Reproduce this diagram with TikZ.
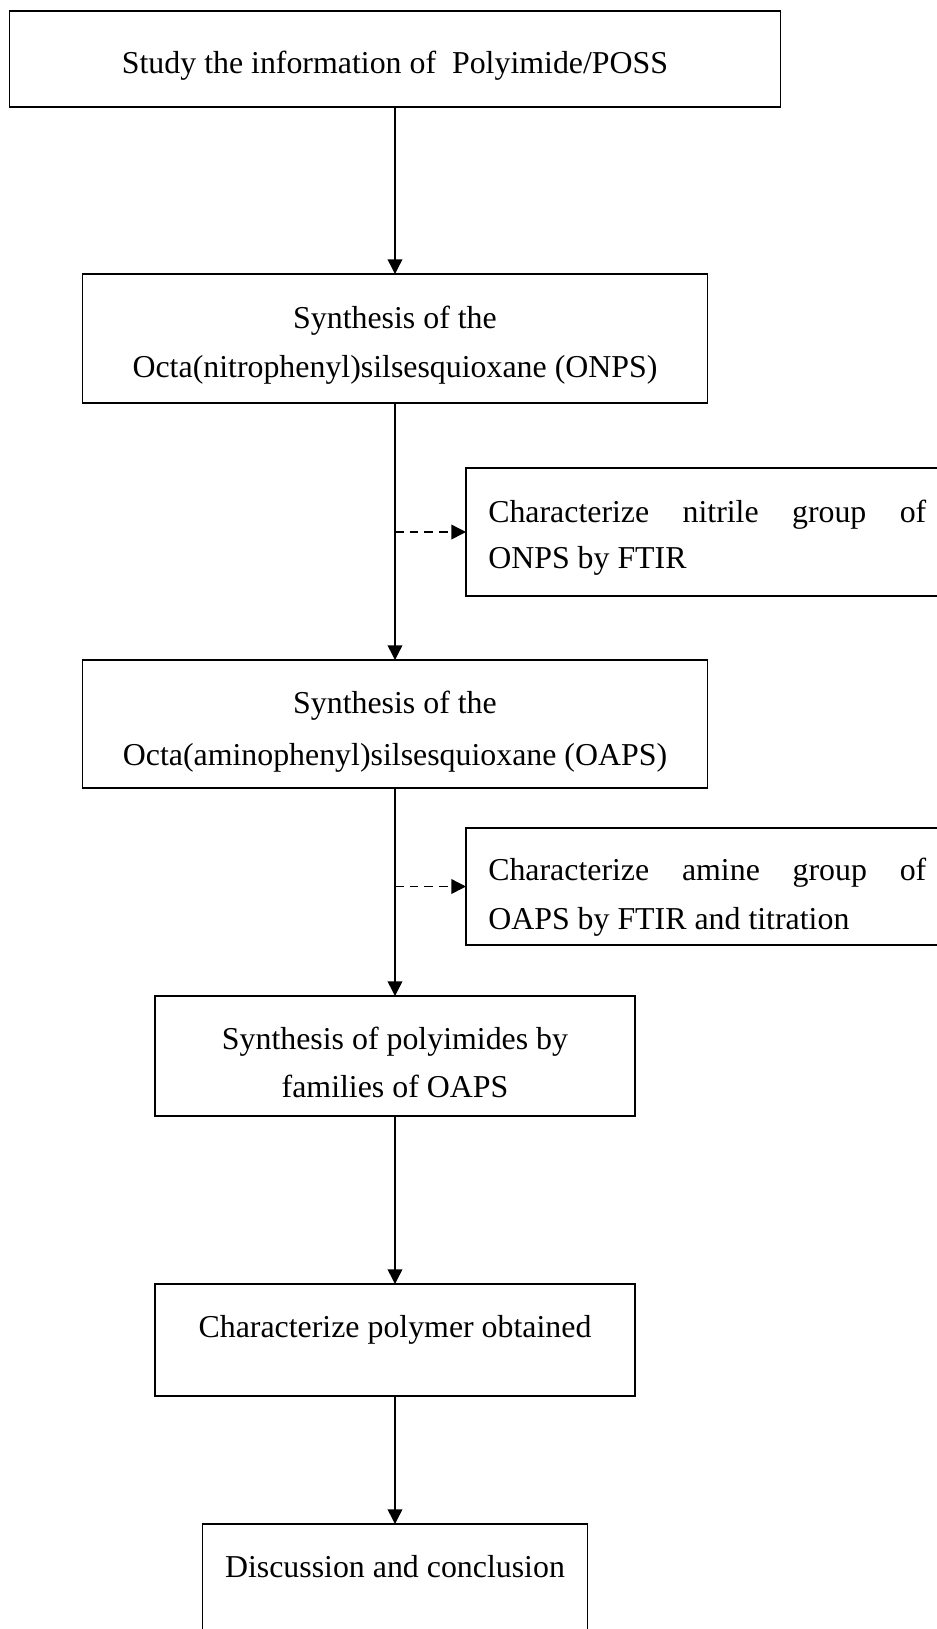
\documentclass[tikz,border=0pt]{standalone}
\usepackage{fontspec}
\setmainfont{Liberation Serif}
\usetikzlibrary{arrows.meta}
\begin{document}
\begin{tikzpicture}[x=0.75pt,y=-0.75pt,
  box/.style={draw,line width=1.1pt,inner sep=0pt,outer sep=0pt,rectangle},
  txt/.style={anchor=base,inner sep=0pt,font=\fontsize{23.9}{36.75}\selectfont},
  ltxt/.style={anchor=base west,inner sep=0pt,font=\fontsize{23.9}{36.75}\selectfont},
  arr/.style={line width=1.1pt,-{Triangle[width=11pt,length=11pt]}},
  darr/.style={line width=1.1pt,dash pattern=on 6.5pt off 4.5pt,-{Triangle[width=11pt,length=11pt]}}]
\useasboundingbox (0,0) rectangle (937,1629);
% boxes
\node[box,minimum width=578.25pt,minimum height=72pt] (b1) at (395,59) {};
\node[box,minimum width=468.75pt,minimum height=96.75pt] (b2) at (395,338.5) {};
\node[box,minimum width=468.75pt,minimum height=96pt] (b3) at (395,724) {};
\node[box,minimum width=370.5pt,minimum height=96pt] (sA) at (713,532) {};
\node[box,minimum width=370.5pt,minimum height=87.75pt] (sB) at (713,886.5) {};
\node[box,minimum width=360pt,minimum height=90pt] (b4) at (395,1056) {};
\node[box,minimum width=360pt,minimum height=84pt] (b5) at (395,1340) {};
\node[box,minimum width=288.75pt,minimum height=102pt] (b6) at (395,1592) {};
% texts
\node[txt] (t1) at (395,73) {Study the information of\ \ Polyimide/POSS};
\node[txt] (t2a) at (395,328) {Synthesis of the};
\node[txt] (t2b) at (395,377) {Octa(nitrophenyl)silsesquioxane (ONPS)};
\node[txt] (t3a) at (395,713) {Synthesis of the};
\node[txt] (t3b) at (395,765) {Octa(aminophenyl)silsesquioxane (OAPS)};
\node[ltxt] (tAa) at (488,522) {\makebox[328.5pt][s]{Characterize nitrile group of}};
\node[ltxt] (tAb) at (488,568) {ONPS by FTIR};
\node[ltxt] (tBa) at (488,880) {\makebox[328.5pt][s]{Characterize amine group of}};
\node[ltxt] (tBb) at (488,929) {OAPS by FTIR and titration};
\node[txt] (t4a) at (395,1049) {Synthesis of polyimides by};
\node[txt] (t4b) at (395,1097) {families of OAPS};
\node[txt] (t5) at (395,1337) {Characterize polymer obtained};
\node[txt] (t6) at (395,1577) {Discussion and conclusion};
% connectors
\coordinate (jA) at (b2.south |- sA.west);
\coordinate (jB) at (b3.south |- sB.west);
\draw[arr] (b1.south) -- (b2.north);
\draw[arr] (b2.south) -- (b3.north);
\draw[darr] (jA) -- (sA.west);
\draw[arr] (b3.south) -- (b4.north);
\draw[darr] (jB) -- (sB.west);
\draw[arr] (b4.south) -- (b5.north);
\draw[arr] (b5.south) -- (b6.north);
\end{tikzpicture}
\end{document}
